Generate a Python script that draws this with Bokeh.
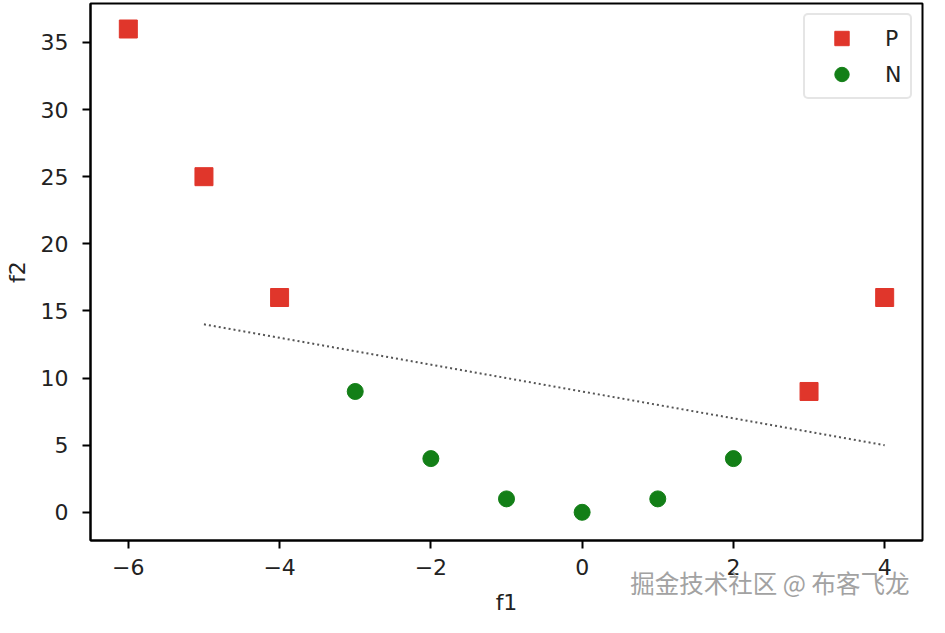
from bokeh.plotting import figure
from bokeh.models import Range1d, Legend, LegendItem, Title, FixedTicker
from bokeh.embed import file_html
from bokeh.resources import INLINE

# data
p_x = [-6, -5, -4, 3, 4]
p_y = [36, 25, 16, 9, 16]
n_x = [-3, -2, -1, 0, 1, 2]
n_y = [9, 4, 1, 0, 1, 4]
line_x = [-5, 4]
line_y = [14, 5]
x_ticks = [-6, -4, -2, 0, 2, 4]
y_ticks = [0, 5, 10, 15, 20, 25, 30, 35]
watermark = "掘金技术社区 @ 布客飞龙"

FONT = "DejaVu Sans"
CJK = "Noto Sans CJK SC"

p = figure(width=929, height=617, output_backend="svg", toolbar_location=None,
           x_range=Range1d(-6.5, 4.5), y_range=Range1d(-2.1, 37.9),
           min_border_left=90, min_border_right=7, min_border_top=3, min_border_bottom=77)
p.grid.visible = False
p.outline_line_color = "black"
p.outline_line_width = 2
p.background_fill_color = "white"
p.border_fill_color = "white"

for ax in (p.xaxis[0], p.yaxis[0]):
    ax.axis_line_width = 2
    ax.axis_line_color = "black"
    ax.major_tick_line_width = 2
    ax.major_tick_out = 8
    ax.major_tick_in = 0
    ax.minor_tick_line_color = None
    ax.major_label_text_font = FONT
    ax.major_label_text_font_size = "22px"
    ax.major_label_text_color = "#222222"
    ax.axis_label_text_font = FONT
    ax.axis_label_text_font_size = "22px"
    ax.axis_label_text_font_style = "normal"
    ax.axis_label_text_color = "#222222"

p.xaxis.ticker = FixedTicker(ticks=x_ticks)
p.yaxis.ticker = FixedTicker(ticks=y_ticks)
p.xaxis.major_label_overrides = {t: str(t).replace("-", "\u2212") for t in x_ticks}
p.xaxis.major_label_standoff = 10
p.yaxis.major_label_standoff = 14
p.yaxis.axis_label = "f2"
p.yaxis.axis_label_standoff = 8

p.line(line_x, line_y, line_color="#555555", line_width=2, line_dash="2 3")

rp = p.scatter(p_x, p_y, marker="square", size=18, fill_color="#E0362B", line_color="#E0362B")
rn = p.scatter(n_x, n_y, marker="circle", size=16, fill_color="#137F17", line_color="#137F17")

legend = Legend(items=[LegendItem(label="P", renderers=[rp]), LegendItem(label="N", renderers=[rn])],
                location="top_right", margin=10, padding=5, spacing=0,
                glyph_width=63, glyph_height=36, label_standoff=12,
                label_text_font=FONT, label_text_font_size="22px", label_text_color="#222222",
                border_line_color="#cccccc", border_line_width=2, border_radius=5,
                background_fill_alpha=1.0)
p.add_layout(legend)

# watermark and the x-axis label, stacked below the axis
p.add_layout(Title(text=watermark, align="right", vertical_align="middle", offset=13, standoff=-27,
                   text_font=CJK, text_font_size="24.5px", text_font_style="normal",
                   text_color="#a2a2a2"), "below")
p.add_layout(Title(text="f1", align="center", vertical_align="middle", offset=0, standoff=3,
                   text_font=FONT, text_font_size="22px", text_font_style="normal",
                   text_color="#222222"), "below")

open("out.html", "w").write(file_html(p, INLINE))
